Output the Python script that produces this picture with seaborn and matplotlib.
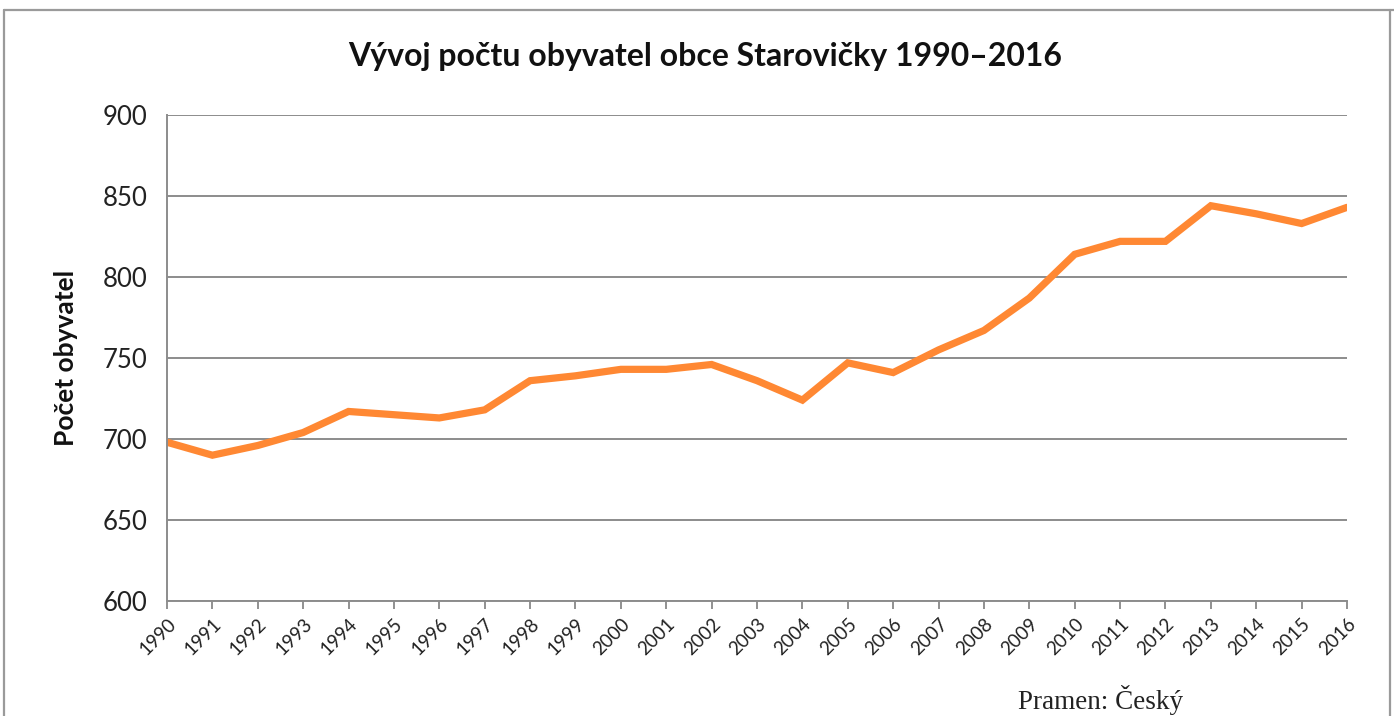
import matplotlib
matplotlib.use("Agg")
import matplotlib.pyplot as plt
import pandas as pd
import seaborn as sns
from matplotlib.lines import Line2D

years = list(range(1990, 2017))
population = [698, 690, 696, 704, 717, 715, 713, 718, 736, 739, 743, 743,
              746, 736, 724, 747, 741, 755, 767, 787, 814, 822, 822, 844,
              839, 833, 843]
y_ticks = [600, 650, 700, 750, 800, 850, 900]

df = pd.DataFrame({"Rok": years, "Obyvatel": population})

sns.set_theme(style="white")
plt.rcParams["font.family"] = ["Lato", "DejaVu Sans"]

fig = plt.figure(figsize=(13.94, 7.16), dpi=100)
ax = fig.add_axes([0.1198, 0.1606, 0.8465, 0.6788])

sns.lineplot(data=df, x="Rok", y="Obyvatel", ax=ax,
             color="#FF8833", linewidth=5.2, solid_joinstyle="miter")

ax.set_xlim(years[0], years[-1])
ax.set_ylim(600, 900)
ax.set_yticks(y_ticks)
ax.set_xticks(years)
ax.set_xticklabels([str(y) for y in years], rotation=45, ha="right",
                   rotation_mode="anchor", fontsize=13.5, color="#222222")
ax.tick_params(axis="y", labelsize=18.5, length=0, pad=14, colors="#222222")
ax.tick_params(axis="x", length=6, width=1.3, color="#888888",
               direction="out", bottom=True, pad=4)

ax.grid(axis="y", color="#8c8c8c", linewidth=1.4)
ax.set_axisbelow(True)
for side in ["top", "right"]:
    ax.spines[side].set_visible(False)
for side in ["left", "bottom"]:
    ax.spines[side].set_color("#8c8c8c")
    ax.spines[side].set_linewidth(1.4)

ax.set_xlabel("")
ax.set_ylabel("Počet obyvatel", fontsize=19, fontweight="bold",
              labelpad=18, color="#111111")

fig.text(0.506, 0.921, "Vývoj počtu obyvatel obce Starovičky 1990–2016",
         ha="center", va="center", fontsize=23, fontweight="bold",
         color="#111111")

fig.text(0.73, 0.022, "Pramen: Český", ha="left", va="center",
         fontsize=19.5, family=["Liberation Serif", "DejaVu Serif"],
         color="#222222")

# outer chart frame
frame_kw = dict(color="#9a9a9a", linewidth=1.6, transform=fig.transFigure)
fig.add_artist(Line2D([4 / 1394, 1], [1 - 10 / 716, 1 - 10 / 716], **frame_kw))
fig.add_artist(Line2D([4 / 1394, 4 / 1394], [0, 1 - 10 / 716], **frame_kw))
fig.add_artist(Line2D([1390 / 1394, 1390 / 1394], [0, 1 - 10 / 716], **frame_kw))

fig.savefig("out.png", dpi=100, facecolor="white")
